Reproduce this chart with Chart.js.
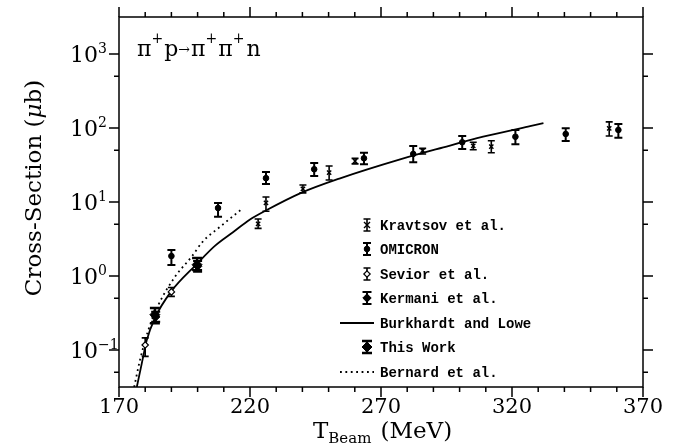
<!DOCTYPE html>
<html>
<head>
<meta charset="utf-8">
<script src="https://cdn.jsdelivr.net/npm/chart.js@4.4.1/dist/chart.umd.min.js"></script>
<style>
  body { margin: 0; background: #fff; }
  #wrap { width: 686px; height: 445px; }
</style>
</head>
<body>
<div id="wrap"><canvas id="xsChart" width="686" height="445"></canvas></div>
<script>
// beam energy (MeV), cross section (ub) and error bar ends
const kravtsovE  = [223.1, 226.1, 240.2, 250.2, 260.1, 285.9, 305.2, 312.1, 357.1];
const kravtsovXs = [5.05, 9.7, 15.0, 24.9, 35.8, 49.3, 57.2, 55.9, 99];
const kravtsovLo = [4.4, 7.5, 13.3, 19.8, 32.7, 44.6, 50.8, 46.4, 78];
const kravtsovHi = [5.9, 11.7, 17.0, 30.6, 38.9, 53.1, 64.2, 67.3, 121];

const omicronE  = [190.0, 207.8, 226.1, 244.5, 263.5, 282.3, 301.0, 321.3, 340.5, 360.6];
const omicronXs = [1.86, 8.3, 21, 27.7, 39, 44.6, 64.2, 76.2, 83, 94];
const omicronLo = [1.41, 6.3, 17.5, 22.5, 32.3, 34.4, 52, 60.3, 66.7, 74];
const omicronHi = [2.24, 9.7, 25.4, 33.6, 46.4, 57.2, 78, 94, 99, 113];

const seviorE  = [180.0, 190.0];
const seviorXs = [0.117, 0.61];
const seviorLo = [0.082, 0.53];
const seviorHi = [0.146, 0.70];

const kermaniE  = [184.0, 200.0];
const kermaniXs = [0.28, 1.35];
const kermaniLo = [0.24, 1.14];
const kermaniHi = [0.33, 1.60];

const thisWorkE  = [183.7, 199.8];
const thisWorkXs = [0.30, 1.42];
const thisWorkLo = [0.23, 1.20];
const thisWorkHi = [0.37, 1.75];

// model curves
const burkE  = [176.8, 178.7, 180.6, 183.7, 189.8, 199.7, 206.6, 213.5, 220.0, 226.4, 239.1, 254.4, 277.3, 293.8, 309.0, 326.9, 332.0];
const burkXs = [0.0316, 0.066, 0.136, 0.27, 0.61, 1.45, 2.55, 3.9, 5.8, 7.8, 13.1, 20.9, 37.7, 54.8, 76.2, 106, 116];

const bernardE  = [175.8, 178.0, 181.2, 185.0, 191.4, 197.7, 201.9, 208.5, 216.8];
const bernardXs = [0.0316, 0.073, 0.186, 0.405, 0.98, 1.82, 2.9, 4.6, 8.0];

// axis ticks
const xLabels = [170, 220, 270, 320, 370];
const yMajor = [0.1, 1, 10, 100, 1000];
const yMinor = [0.05, 0.5, 5, 50, 500];
const yExp = ['-1', '0', '1', '2', '3'];

const legendNames = ['Kravtsov et al.', 'OMICRON', 'Sevior et al.', 'Kermani et al.', 'Burkhardt and Lowe', 'This Work', 'Bernard et al.'];

const SERIF = '"DejaVu Serif", serif';

function pts(xs, ys) {
    return xs.map((v, i) => ({ x: v, y: ys[i] }));
}

function drawMarker(ctx, style, r, x, y, fill) {
    ctx.beginPath();
    if (style === 'crossRot') {
        ctx.moveTo(x - r, y - r); ctx.lineTo(x + r, y + r);
        ctx.moveTo(x - r, y + r); ctx.lineTo(x + r, y - r);
        ctx.stroke();
        return;
    }
    if (style === 'circle') {
        ctx.arc(x, y, r, 0, Math.PI * 2);
    } else {
        ctx.moveTo(x, y - r); ctx.lineTo(x + r, y); ctx.lineTo(x, y + r); ctx.lineTo(x - r, y); ctx.closePath();
    }
    ctx.fillStyle = fill;
    ctx.fill();
    ctx.stroke();
}

function drawPieces(ctx, pieces, x, y) {
    pieces.forEach(p => {
        ctx.font = p.font;
        ctx.fillText(p.t, x, y + (p.dy || 0));
        x += ctx.measureText(p.t).width + (p.gap || 0);
    });
    return x;
}

function piecesWidth(ctx, pieces) {
    return pieces.reduce((w, p) => { ctx.font = p.font; return w + ctx.measureText(p.t).width + (p.gap || 0); }, 0);
}

const errorBars = {
    id: 'errorBars',
    beforeDatasetsDraw(chart) {
        const { ctx, scales: { x, y } } = chart;
        ctx.save();
        ctx.strokeStyle = '#000';
        chart.data.datasets.forEach(ds => {
            if (!ds.errLo) return;
            ctx.lineWidth = ds.errWidth;
            ds.data.forEach((p, j) => {
                const px = x.getPixelForValue(p.x);
                const top = y.getPixelForValue(ds.errHi[j]);
                const bot = y.getPixelForValue(ds.errLo[j]);
                const c = ds.capHalf;
                ctx.beginPath();
                ctx.moveTo(px, top); ctx.lineTo(px, bot);
                ctx.moveTo(px - c, top); ctx.lineTo(px + c, top);
                ctx.moveTo(px - c, bot); ctx.lineTo(px + c, bot);
                ctx.stroke();
            });
        });
        ctx.restore();
    }
};

const decorations = {
    id: 'decorations',
    beforeDraw(chart) {
        const ctx = chart.ctx;
        ctx.save();
        ctx.fillStyle = '#fff';
        ctx.fillRect(0, 0, chart.width, chart.height);
        ctx.restore();
    },
    afterDraw(chart) {
        const { ctx, chartArea: a, scales: { x, y } } = chart;
        ctx.save();
        ctx.strokeStyle = '#000';
        ctx.fillStyle = '#000';
        ctx.lineWidth = 1.5;
        ctx.strokeRect(a.left, a.top, a.right - a.left, a.bottom - a.top);

        // tick marks, all pointing outwards
        ctx.beginPath();
        for (let v = xLabels[0]; v <= xLabels[xLabels.length - 1]; v += 10) {
            const px = x.getPixelForValue(v);
            const len = xLabels.includes(v) ? 10 : 5;
            ctx.moveTo(px, a.bottom); ctx.lineTo(px, a.bottom + len);
            ctx.moveTo(px, a.top); ctx.lineTo(px, a.top - len);
        }
        yMajor.concat(yMinor).forEach(v => {
            const py = y.getPixelForValue(v);
            const len = yMajor.includes(v) ? 10 : 5;
            ctx.moveTo(a.left, py); ctx.lineTo(a.left - len, py);
            ctx.moveTo(a.right, py); ctx.lineTo(a.right + len, py);
        });
        ctx.stroke();

        // y tick labels 10^n
        ctx.textBaseline = 'alphabetic';
        ctx.textAlign = 'left';
        yMajor.forEach((v, i) => {
            const py = y.getPixelForValue(v);
            drawPieces(ctx, [
                { t: '10', font: '22px ' + SERIF },
                { t: yExp[i].replace('-', '\u2212'), font: '14px ' + SERIF, dy: -9 }
            ], 70, py + 8);
        });

        // y axis title
        ctx.save();
        ctx.translate(41, 188);
        ctx.rotate(-Math.PI / 2);
        const yt = [
            { t: 'Cross-Section (', font: '23px ' + SERIF },
            { t: '\u03bc', font: 'italic 23px ' + SERIF },
            { t: 'b)', font: '23px ' + SERIF }
        ];
        drawPieces(ctx, yt, -piecesWidth(ctx, yt) / 2, 0);
        ctx.restore();

        // x axis title
        drawPieces(ctx, [
            { t: 'T', font: '23px ' + SERIF },
            { t: 'Beam', font: '15px ' + SERIF, dy: 5, gap: 9 },
            { t: '(MeV)', font: '23px ' + SERIF }
        ], 313, 438);

        // reaction label
        drawPieces(ctx, [
            { t: '\u03c0', font: '22px ' + SERIF },
            { t: '+', font: '14px ' + SERIF, dy: -13, gap: 1 },
            { t: 'p', font: '22px ' + SERIF },
            { t: '\u2192', font: '14px ' + SERIF, dy: -2, gap: 1 },
            { t: '\u03c0', font: '22px ' + SERIF },
            { t: '+', font: '14px ' + SERIF, dy: -13, gap: 1 },
            { t: '\u03c0', font: '22px ' + SERIF },
            { t: '+', font: '14px ' + SERIF, dy: -13, gap: 2 },
            { t: 'n', font: '22px ' + SERIF }
        ], 137, 56);

        // legend
        const rowY = [225, 249, 274, 298, 323, 347, 372];
        ctx.font = 'bold 14px "Liberation Mono", monospace';
        ctx.textBaseline = 'middle';
        chart.data.datasets.forEach(ds => {
            const ly = rowY[ds.legendRow];
            ctx.fillStyle = '#000';
            ctx.fillText(legendNames[ds.legendRow], 380, ly + 1);
            ctx.lineWidth = ds.borderWidth || 1;
            if (ds.showLine) {
                ctx.save();
                ctx.setLineDash(ds.borderDash || []);
                ctx.beginPath();
                ctx.moveTo(340, ly); ctx.lineTo(374, ly);
                ctx.stroke();
                ctx.restore();
            } else {
                ctx.lineWidth = ds.errWidth;
                ctx.beginPath();
                ctx.moveTo(367, ly - 6); ctx.lineTo(367, ly + 6);
                ctx.moveTo(367 - ds.capHalf, ly - 6); ctx.lineTo(367 + ds.capHalf, ly - 6);
                ctx.moveTo(367 - ds.capHalf, ly + 6); ctx.lineTo(367 + ds.capHalf, ly + 6);
                ctx.stroke();
                ctx.lineWidth = ds.borderWidth;
                drawMarker(ctx, ds.pointStyle, ds.pointRadius, 367, ly, ds.pointBackgroundColor);
            }
        });
        ctx.restore();
    }
};

const ctx = document.getElementById('xsChart').getContext('2d');
const chart = new Chart(ctx, {
    type: 'scatter',
    data: {
        datasets: [
            {
                label: 'Kravtsov et al.', legendRow: 0,
                data: pts(kravtsovE, kravtsovXs), errLo: kravtsovLo, errHi: kravtsovHi,
                pointStyle: 'crossRot', pointRadius: 3, borderColor: '#000', borderWidth: 1.4,
                pointBackgroundColor: '#000', errWidth: 1.6, capHalf: 3.5
            },
            {
                label: 'OMICRON', legendRow: 1,
                data: pts(omicronE, omicronXs), errLo: omicronLo, errHi: omicronHi,
                pointStyle: 'circle', pointRadius: 2.8, borderColor: '#000', borderWidth: 1,
                pointBackgroundColor: '#000', errWidth: 2, capHalf: 4
            },
            {
                label: 'Sevior et al.', legendRow: 2,
                data: pts(seviorE, seviorXs), errLo: seviorLo, errHi: seviorHi,
                pointStyle: 'rectRot', pointRadius: 3.2, borderColor: '#000', borderWidth: 1.2,
                pointBackgroundColor: '#fff', errWidth: 1.6, capHalf: 3.5
            },
            {
                label: 'Kermani et al.', legendRow: 3,
                data: pts(kermaniE, kermaniXs), errLo: kermaniLo, errHi: kermaniHi,
                pointStyle: 'rectRot', pointRadius: 4.2, borderColor: '#000', borderWidth: 1,
                pointBackgroundColor: '#000', errWidth: 2, capHalf: 4.5
            },
            {
                label: 'Burkhardt and Lowe', legendRow: 4,
                data: pts(burkE, burkXs), showLine: true, pointRadius: 0,
                borderColor: '#000', borderWidth: 1.8, cubicInterpolationMode: 'monotone'
            },
            {
                label: 'This Work', legendRow: 5,
                data: pts(thisWorkE, thisWorkXs), errLo: thisWorkLo, errHi: thisWorkHi,
                pointStyle: 'rectRot', pointRadius: 5, borderColor: '#000', borderWidth: 1,
                pointBackgroundColor: '#000', errWidth: 2.4, capHalf: 5
            },
            {
                label: 'Bernard et al.', legendRow: 6,
                data: pts(bernardE, bernardXs), showLine: true, pointRadius: 0,
                borderColor: '#000', borderWidth: 1.8, borderDash: [1.8, 3.6], cubicInterpolationMode: 'monotone'
            }
        ]
    },
    options: {
        responsive: false,
        animation: false,
        layout: { padding: { top: 17, right: 43, left: 0, bottom: 0 } },
        plugins: { legend: { display: false }, tooltip: { enabled: false } },
        scales: {
            x: {
                type: 'linear', min: 170, max: 370,
                afterBuildTicks: s => { s.ticks = xLabels.map(v => ({ value: v })); },
                afterFit: s => { s.height = 58; },
                grid: { display: false, drawTicks: false },
                border: { display: false },
                ticks: { color: '#000', padding: 8, maxRotation: 0, font: { family: 'DejaVu Serif', size: 21 } }
            },
            y: {
                type: 'logarithmic', min: Math.pow(10, -1.5), max: Math.pow(10, 3.5),
                afterBuildTicks: s => { s.ticks = yMajor.map(v => ({ value: v })); },
                afterFit: s => { s.width = 119; },
                grid: { display: false, drawTicks: false },
                border: { display: false },
                ticks: { display: false }
            }
        }
    },
    plugins: [errorBars, decorations]
});
</script>
</body>
</html>
